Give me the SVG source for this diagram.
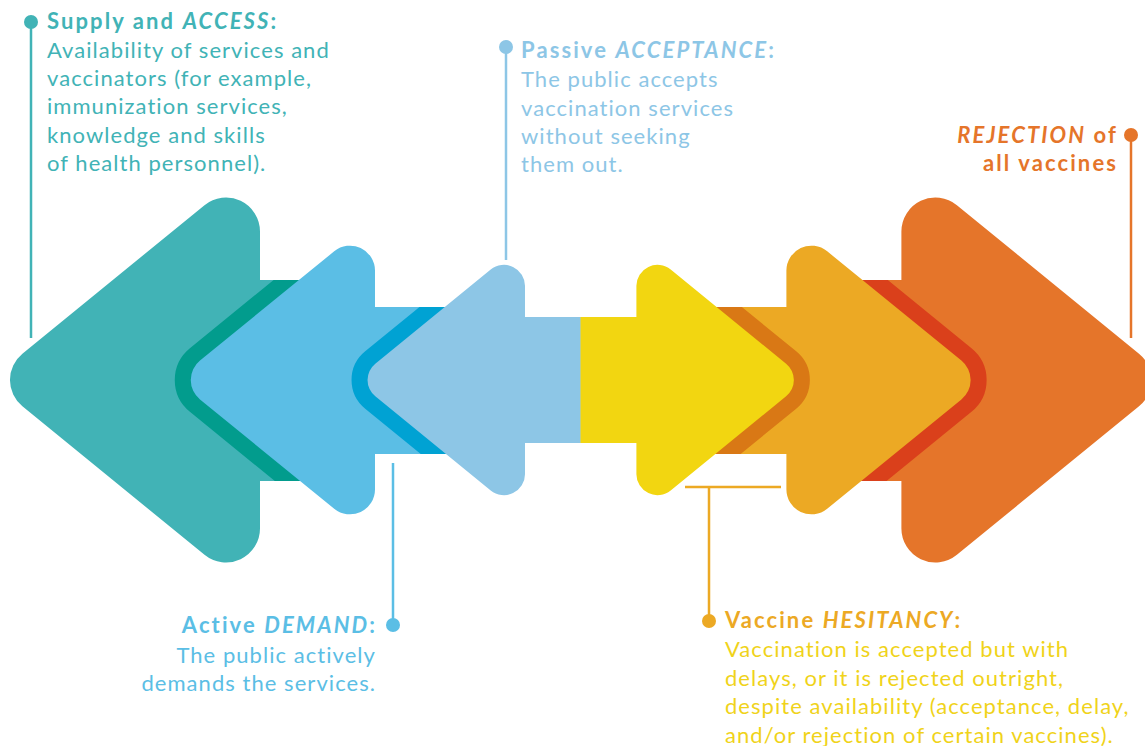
<svg xmlns="http://www.w3.org/2000/svg" width="1145" height="746" viewBox="0 0 1145 746">
<style>
text{font-family:Lato,"Noto Sans","DejaVu Sans",sans-serif;font-size:22px;letter-spacing:1.05px}
.t{font-weight:700;letter-spacing:2.1px}
.i{font-style:italic}
.ln{stroke-width:2.5;fill:none}
</style>
<defs>
<path id="pBlue" d="M500,307 L375,307 L375,270.6 A25,25 0 0 0 334.2,251.3 L200,360.6 A25,25 0 0 0 200,399.4 L334.2,508.7 A25,25 0 0 0 375,489.4 L375,454 L500,454 Z"/>
<path id="pLBlue" d="M580.9,317 L525,317 L525,285.9 A21,21 0 0 0 490.7,269.6 L375.3,363.7 A21,21 0 0 0 375.3,396.3 L490.7,490.4 A21,21 0 0 0 525,474.1 L525,443 L580.9,443 Z"/>
<path id="pOY" d="M661.4,307 L786.4,307 L786.4,270.6 A25,25 0 0 1 827.2,251.3 L961.4,360.6 A25,25 0 0 1 961.4,399.4 L827.2,508.7 A25,25 0 0 1 786.4,489.4 L786.4,454 L661.4,454 Z"/>
<path id="pYellow" d="M580.5,317 L636.4,317 L636.4,285.9 A21,21 0 0 1 670.7,269.6 L786.1,363.7 A21,21 0 0 1 786.1,396.3 L670.7,490.4 A21,21 0 0 1 636.4,474.1 L636.4,443 L580.5,443 Z"/>
<clipPath id="cTeal"><rect x="150" y="280" width="180" height="201"/></clipPath>
<clipPath id="cBlue"><rect x="330" y="307" width="170" height="147"/></clipPath>
<clipPath id="cOrange"><rect x="831.4" y="280" width="180" height="201"/></clipPath>
<clipPath id="cOY"><rect x="661.4" y="307" width="170" height="147"/></clipPath>
</defs>

<g id="access">
<path fill="#41B3B6" d="M330,280 L260,280 L260,231.6 A34,34 0 0 0 204.5,205.2 L22.4,353.7 A34,34 0 0 0 22.4,406.3 L204.5,554.8 A34,34 0 0 0 260,528.4 L260,481 L330,481 Z"/>
<text x="47" y="29" fill="#41B3B6" class="t">Supply and <tspan class="i">ACCESS</tspan>:</text>
<text fill="#41B3B6"><tspan x="47" y="57.5">Availability of services and</tspan><tspan x="47" y="86">vaccinators (for example,</tspan><tspan x="47" y="114">immunization services,</tspan><tspan x="47" y="142.5">knowledge and skills</tspan><tspan x="47" y="171">of health personnel).</tspan></text>
</g>

<g id="demand">
<use href="#pBlue" fill="#029C8D" stroke="#029C8D" stroke-width="32" stroke-linejoin="round" clip-path="url(#cTeal)"/>
<use href="#pBlue" fill="#5BBEE5"/>
<text x="377" y="633" fill="#5BBEE5" class="t" text-anchor="end">Active <tspan class="i">DEMAND</tspan>:</text>
<text fill="#5BBEE5" text-anchor="end"><tspan x="376" y="663">The public actively</tspan><tspan x="376" y="691">demands the services.</tspan></text>
</g>

<g id="acceptance">
<use href="#pLBlue" fill="#00A2D3" stroke="#00A2D3" stroke-width="32" stroke-linejoin="round" clip-path="url(#cBlue)"/>
<use href="#pLBlue" fill="#8DC6E6"/>
<text x="521" y="58" fill="#8DC6E6" class="t">Passive <tspan class="i">ACCEPTANCE</tspan>:</text>
<text fill="#8DC6E6"><tspan x="521" y="87">The public accepts</tspan><tspan x="521" y="115.5">vaccination services</tspan><tspan x="521" y="143.5">without seeking</tspan><tspan x="521" y="172">them out.</tspan></text>
</g>

<g id="rejection">
<path fill="#E5752A" d="M831.4,280 L901.4,280 L901.4,231.6 A34,34 0 0 1 956.9,205.2 L1139,353.7 A34,34 0 0 1 1139,406.3 L956.9,554.8 A34,34 0 0 1 901.4,528.4 L901.4,481 L831.4,481 Z"/>
<text x="1118" y="142.5" fill="#E5752A" class="t" text-anchor="end"><tspan class="i">REJECTION</tspan> of</text>
<text x="1118" y="171" fill="#E5752A" class="t" text-anchor="end">all vaccines</text>
</g>

<g id="hesitancy">
<use href="#pOY" fill="#DA401B" stroke="#DA401B" stroke-width="32" stroke-linejoin="round" clip-path="url(#cOrange)"/>
<use href="#pOY" fill="#ECA924"/>
<text x="725" y="628" fill="#ECA924" class="t">Vaccine <tspan class="i">HESITANCY</tspan>:</text>
<text fill="#F0D31A"><tspan x="725" y="657">Vaccination is accepted but with</tspan><tspan x="725" y="685.5">delays, or it is rejected outright,</tspan><tspan x="725" y="714">despite availability (acceptance, delay,</tspan><tspan x="725" y="742.5">and/or rejection of certain vaccines).</tspan></text>
</g>

<g id="yellow-arrow">
<use href="#pYellow" fill="#D97815" stroke="#D97815" stroke-width="32" stroke-linejoin="round" clip-path="url(#cOY)"/>
<use href="#pYellow" fill="#F2D611"/>
</g>

<g id="connectors">
<line class="ln" stroke="#41B3B6" x1="31" y1="22" x2="31" y2="338"/>
<circle cx="31" cy="22" r="7" fill="#41B3B6"/>
<line class="ln" stroke="#8DC6E6" x1="506" y1="47" x2="506" y2="260"/>
<circle cx="506" cy="47" r="7" fill="#8DC6E6"/>
<line class="ln" stroke="#5BBEE5" x1="393" y1="463" x2="393" y2="625"/>
<circle cx="393" cy="625" r="7" fill="#5BBEE5"/>
<line class="ln" stroke="#E5752A" x1="1131" y1="135" x2="1131" y2="338"/>
<circle cx="1131" cy="135" r="7" fill="#E5752A"/>
<path class="ln" stroke="#ECA924" d="M685,487 H781 M709,487 V621"/>
<circle cx="709" cy="621" r="7" fill="#ECA924"/>
</g>
</svg>
